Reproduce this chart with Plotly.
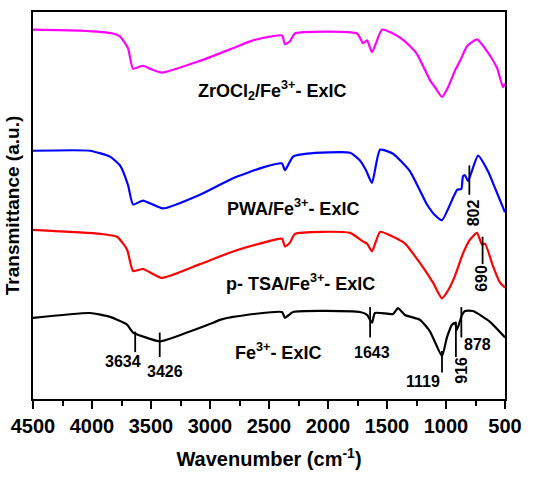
import plotly.graph_objects as go

# ---- data (wavenumber cm^-1, transmittance a.u. with vertical offsets) ----
zr_wn = [4500, 4102, 3822, 3763, 3695, 3652, 3568, 3508, 3407, 3085, 2805, 2635, 2390, 2365, 2322, 2280,
         1754, 1703, 1669, 1627, 1542, 1449, 1347, 1246, 1135, 1093, 1034, 983, 924, 881, 822, 737, 653, 568, 517, 500]
zr_t = [378, 377, 374, 371, 359, 338, 341, 338, 334, 346, 359, 367, 372, 363, 366, 374,
        374, 364, 367, 355, 378, 374, 366, 353, 326, 319, 309, 319, 336, 346, 361, 368, 356, 339, 319, 323]

pwa_wn = [4500, 4017, 3847, 3763, 3695, 3652, 3568, 3398, 3085, 2805, 2550, 2390, 2365, 2296, 2178,
          1813, 1729, 1678, 1627, 1559, 1449, 1305, 1161, 1093, 1034, 940, 906, 870, 856, 839, 813, 729, 644, 585, 500]
pwa_t = [254, 254, 248, 239, 219, 199, 203, 195, 209, 226, 237, 241, 234, 248, 251,
         252, 244, 234, 221, 255, 251, 233, 199, 188, 183, 206, 214, 215, 228, 229, 223, 249, 233, 216, 191]

tsa_wn = [4500, 3932, 3788, 3703, 3652, 3568, 3407, 3085, 2805, 2576, 2390, 2365, 2322, 2280,
          1813, 1703, 1669, 1627, 1559, 1449, 1347, 1220, 1110, 1034, 983, 924, 856, 797, 737, 695, 669, 602, 542, 500]
tsa_t = [173, 169, 166, 153, 131, 133, 124, 138, 151, 159, 164, 156, 160, 169,
         170, 161, 159, 151, 171, 166, 159, 139, 119, 103, 111, 126, 149, 163, 170, 158, 159, 136, 119, 114]

fe_wn = [4500, 4017, 3847, 3703, 3652, 3568, 3424, 3195, 2974, 2915, 2805, 2390, 2365, 2296,
         1729, 1669, 1627, 1602, 1449, 1407, 1347, 1220, 1135, 1034, 992, 949, 924, 907, 864, 839, 771, 627, 500]
fe_t = [83, 88, 84, 76, 68, 64, 59, 68, 78, 81, 84, 89, 83, 89,
        89, 86, 78, 88, 87, 93, 86, 81, 69, 44, 63, 76, 78, 71, 86, 90, 90, 79, 63]

series_names = ["ZrOCl<sub>2</sub>/Fe<sup>3+</sup>- ExIC", "PWA/Fe<sup>3+</sup>- ExIC",
                "p- TSA/Fe<sup>3+</sup>- ExIC", "Fe<sup>3+</sup>- ExIC"]
series_colors = ["#FF00FF", "#0000FF", "#FF0000", "#000000"]
label_x = [2474, 2297, 2229, 2424]
label_y = [316, 196, 119, 49]

# peak markers: line position, line y from/to, label text, label position, angle
peak_x = [3634, 3426, 1643, 1034, 916, 870, 802, 690]
peak_y0 = [69, 68, 94, 49, 79, 94, 239, 166]
peak_y1 = [48, 43, 63, 27, 43, 63, 209, 138]
peak_text = ["3634", "3426", "1643", "1119", "916", "878", "802", "690"]
peak_lx = [3737, 3381, 1627, 1195, 864, 737, 771, 695]
peak_ly = [38, 28, 48, 18, 29, 56, 190, 124]
peak_angle = [0, 0, 0, 0, -90, 0, -90, -90]

FONT = "Liberation Sans, Arial, sans-serif"

fig = go.Figure()
for wn, t, c in zip([zr_wn, pwa_wn, tsa_wn, fe_wn], [zr_t, pwa_t, tsa_t, fe_t], series_colors):
    fig.add_trace(go.Scatter(x=wn, y=t, mode="lines", line=dict(color=c, width=2.2, shape="spline", smoothing=0.5),
                             showlegend=False, hoverinfo="skip"))

for name, lx, ly in zip(series_names, label_x, label_y):
    fig.add_annotation(x=lx, y=ly, text=name, showarrow=False, xanchor="center", yanchor="middle",
                       font=dict(family=FONT, size=18, color="black", weight="bold"))

for px, y0, y1, txt, lx, ly, ang in zip(peak_x, peak_y0, peak_y1, peak_text, peak_lx, peak_ly, peak_angle):
    fig.add_shape(type="line", x0=px, x1=px, y0=y0, y1=y1, xref="x", yref="y",
                  line=dict(color="black", width=1.8))
    fig.add_annotation(x=lx, y=ly, text=txt, showarrow=False, textangle=ang,
                       xanchor="center", yanchor="middle",
                       font=dict(family=FONT, size=16, color="black", weight="bold"))

fig.update_layout(
    width=539, height=477,
    margin=dict(l=33, r=34, t=10, b=71),
    paper_bgcolor="white", plot_bgcolor="white",
    font=dict(family=FONT, color="black", weight="bold"),
    xaxis=dict(
        range=[4500, 500], tickmode="array", tickvals=[4500, 4000, 3500, 3000, 2500, 2000, 1500, 1000, 500],
        ticks="outside", ticklen=8, tickwidth=2, tickcolor="black",
        minor=dict(dtick=250, ticks="outside", ticklen=5, tickwidth=2, tickcolor="black"),
        showline=True, linewidth=2, linecolor="black", mirror=True, showgrid=False, zeroline=False,
        tickfont=dict(family=FONT, size=20, color="black", weight="bold"),
        title=dict(text="Wavenumber (cm<sup>-1</sup>)", standoff=16,
                   font=dict(family=FONT, size=20, color="black", weight="bold")),
    ),
    yaxis=dict(
        range=[0, 396], showticklabels=False, ticks="", showgrid=False, zeroline=False,
        showline=True, linewidth=2, linecolor="black", mirror=True,
        title=dict(text="Transmittance (a.u.)", standoff=6,
                   font=dict(family=FONT, size=19, color="black", weight="bold")),
    ),
)

fig.write_html("out.html")
